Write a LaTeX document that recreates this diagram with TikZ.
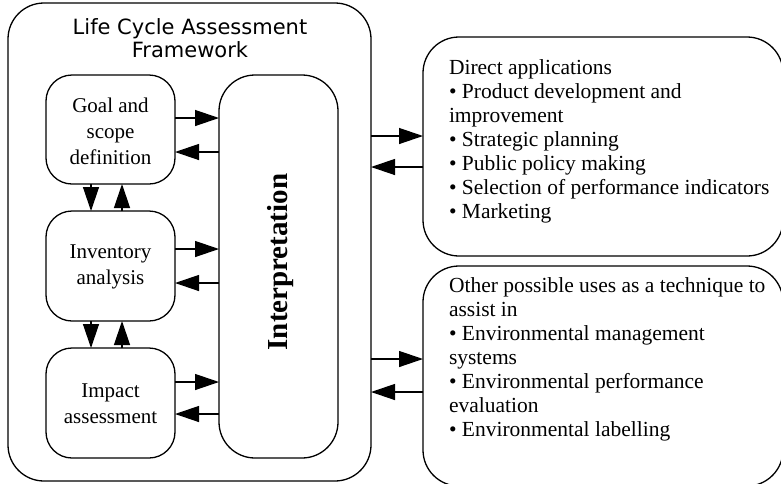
\documentclass[tikz,border=0pt]{standalone}
\usepackage{fontspec}
\setmainfont{Liberation Serif}
\newfontfamily\titlefont{DejaVu Sans}
\usetikzlibrary{arrows.meta,calc}
\begin{document}
\begin{tikzpicture}[x=1pt,y=-1pt,
  every node/.style={inner sep=0pt,outer sep=0pt},
  box/.style={draw,line width=1.3pt,rounded corners=#1},
  arr/.style={line width=1.3pt,-{Triangle[length=24pt,width=16pt]}},
  ltxt/.style={font=\fontsize{21}{26}\selectfont,align=center},
  rtxt/.style={font=\fontsize{21.5}{24}\selectfont,align=left,anchor=north west}]
\useasboundingbox (0,0) rectangle (781,483);
% outer framework
\node[box=36pt,minimum width=363pt,minimum height=478pt] (lca) at (189.5,242) {};
\node[font=\titlefont\fontsize{21}{22.5}\selectfont,align=center] (title) at (190,38) {Life Cycle Assessment\\Framework};
% left boxes
\node[box=26pt,minimum width=129pt,minimum height=109pt] (goal) at (110.5,129.5) {};
\node[ltxt] (goalt) at (110.5,131) {Goal and\\scope\\definition};
\node[box=26pt,minimum width=129pt,minimum height=110pt] (inv) at (110.5,266) {};
\node[ltxt] (invt) at (110.5,267) {Inventory\\analysis};
\node[box=26pt,minimum width=129pt,minimum height=110pt] (imp) at (110.5,403) {};
\node[ltxt] (impt) at (110.5,404) {Impact\\assessment};
% interpretation
\node[box=36pt,minimum width=119pt,minimum height=383pt] (int) at (278.5,266.5) {};
\node[rotate=90,font=\bfseries\fontsize{29}{30}\selectfont] (intt) at (281,262) {Interpretation};
% right boxes
\node[box=36pt,minimum width=360pt,minimum height=219pt] (dir) at (603,146.5) {};
\node[rtxt] (dirt) at (449,60) {Direct applications\\
\textbullet\ Product development and\\
improvement\\
\textbullet\ Strategic planning\\
\textbullet\ Public policy making\\
\textbullet\ Selection of performance indicators\\
\textbullet\ Marketing};
\node[box=36pt,minimum width=360pt,minimum height=220pt] (oth) at (603,376) {};
\node[rtxt] (otht) at (449,278) {Other possible uses as a technique to\\
assist in\\
\textbullet\ Environmental management\\
systems\\
\textbullet\ Environmental performance\\
evaluation\\
\textbullet\ Environmental labelling};
% arrows left boxes <-> interpretation
\draw[arr] (goal.east |- 0,118) -- (int.west |- 0,118);
\draw[arr] (int.west |- 0,152) -- (goal.east |- 0,152);
\draw[arr] (inv.east |- 0,249) -- (int.west |- 0,249);
\draw[arr] (int.west |- 0,283) -- (inv.east |- 0,283);
\draw[arr] (imp.east |- 0,382) -- (int.west |- 0,382);
\draw[arr] (int.west |- 0,414) -- (imp.east |- 0,414);
% vertical arrows
\draw[arr] (goal.south -| 91,0) -- (inv.north -| 91,0);
\draw[arr] (inv.north -| 122,0) -- (goal.south -| 122,0);
\draw[arr] (inv.south -| 91,0) -- (imp.north -| 91,0);
\draw[arr] (imp.north -| 122,0) -- (inv.south -| 122,0);
% framework <-> right boxes
\draw[arr] (lca.east |- 0,136) -- (dir.west |- 0,136);
\draw[arr] (dir.west |- 0,167) -- (lca.east |- 0,167);
\draw[arr] (lca.east |- 0,359) -- (oth.west |- 0,359);
\draw[arr] (oth.west |- 0,392) -- (lca.east |- 0,392);
\end{tikzpicture}
\end{document}
